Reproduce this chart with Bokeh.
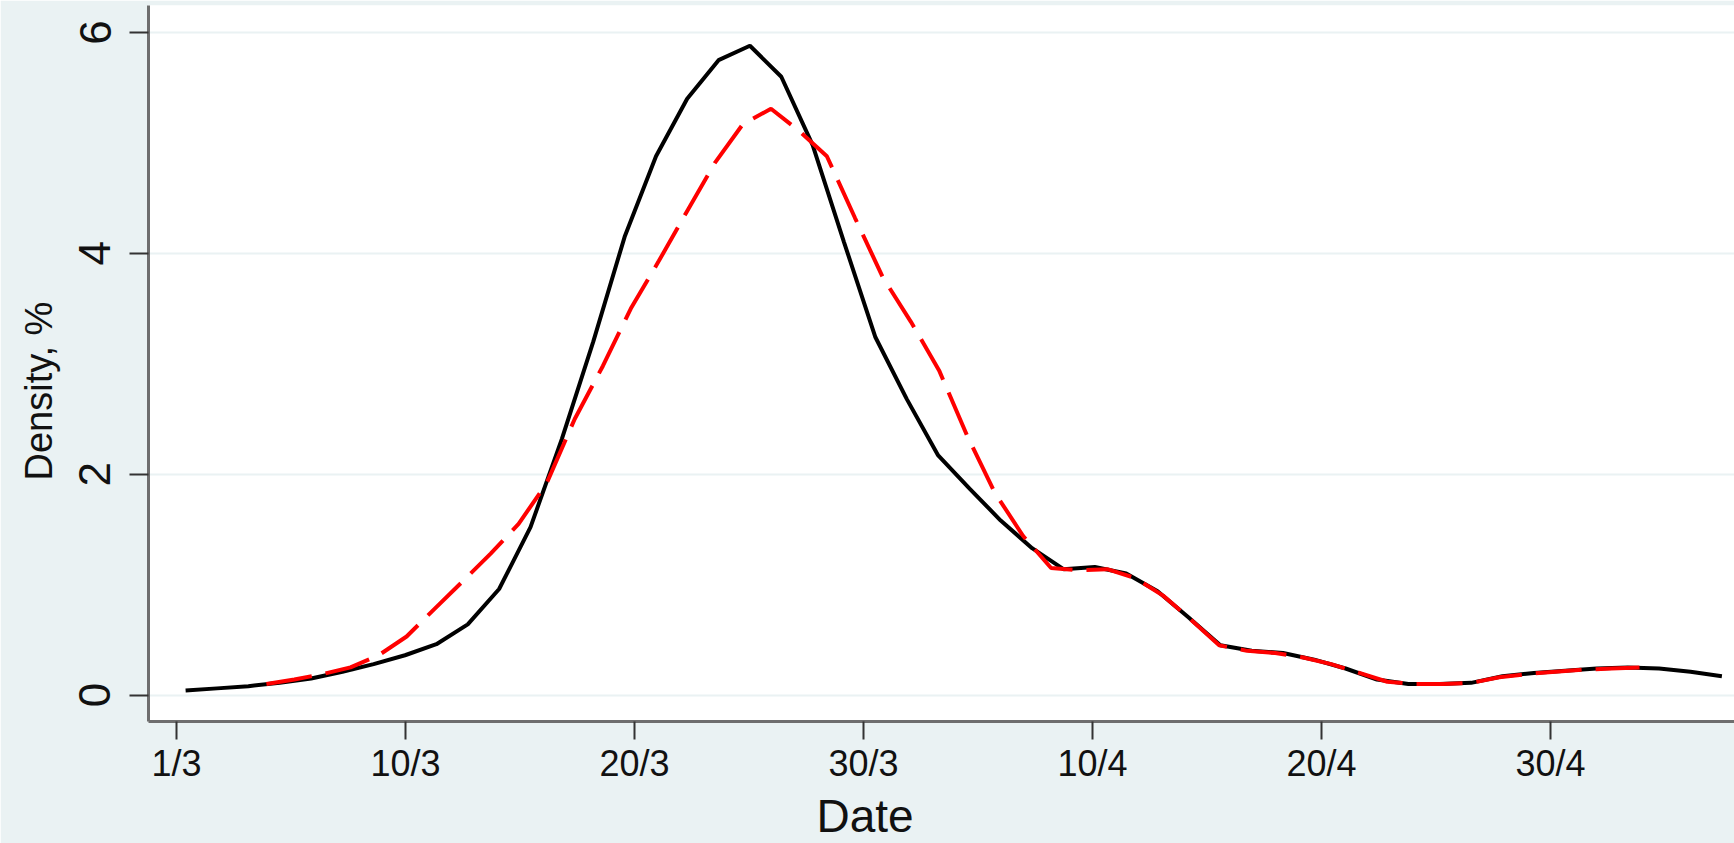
from bokeh.plotting import figure
from bokeh.models import Range1d, FixedTicker, Title
from bokeh.embed import file_html
from bokeh.resources import INLINE

# ---- data -------------------------------------------------------------
day_ticks = [0, 10, 20, 30, 40, 50, 60]
day_tick_labels = ["1/3", "10/3", "20/3", "30/3", "10/4", "20/4", "30/4"]
density_ticks = [0, 2, 4, 6]

# solid black density curve (day index, density %)
black_x = [0.40, 1.77, 3.14, 4.51, 5.88, 7.25, 8.61, 9.98, 11.35, 12.72,
           14.09, 15.46, 16.83, 18.20, 19.57, 20.94, 22.30, 23.67, 25.04, 26.41,
           27.78, 29.15, 30.52, 31.89, 33.26, 34.63, 35.99, 37.36, 38.73, 40.10,
           41.47, 42.84, 44.21, 45.58, 46.95, 48.32, 49.68, 51.05, 52.42, 53.79,
           55.16, 56.53, 57.90, 59.27, 60.64, 62.01, 63.37, 64.74, 66.11, 67.48]
black_y = [0.04, 0.06, 0.08, 0.11, 0.15, 0.21, 0.28, 0.36, 0.46, 0.64,
           0.96, 1.52, 2.32, 3.20, 4.15, 4.88, 5.40, 5.75, 5.88, 5.60,
           4.98, 4.10, 3.24, 2.68, 2.17, 1.87, 1.58, 1.33, 1.14, 1.16,
           1.10, 0.94, 0.70, 0.45, 0.40, 0.38, 0.32, 0.24, 0.14, 0.10,
           0.10, 0.11, 0.17, 0.20, 0.22, 0.24, 0.25, 0.24, 0.21, 0.17]

# dashed red density curve
red_x = [3.93, 5.15, 6.38, 7.60, 8.83, 10.05, 11.27, 12.50, 13.72, 14.94,
         16.17, 17.39, 18.62, 19.84, 21.06, 22.29, 23.51, 24.73, 25.96, 27.18,
         28.40, 29.63, 30.85, 32.07, 33.30, 34.52, 35.74, 36.97, 38.19, 39.41,
         40.64, 41.86, 43.08, 44.31, 45.53, 46.75, 47.98, 49.20, 50.42, 51.65,
         52.87, 54.09, 55.32, 56.54, 57.76, 58.99, 60.21, 61.43, 62.66, 63.88]
red_y = [0.10, 0.14, 0.19, 0.25, 0.36, 0.53, 0.78, 1.03, 1.28, 1.55,
         1.92, 2.50, 2.98, 3.50, 3.93, 4.38, 4.82, 5.17, 5.31, 5.11,
         4.88, 4.32, 3.78, 3.38, 2.94, 2.35, 1.83, 1.44, 1.15, 1.13,
         1.14, 1.06, 0.90, 0.68, 0.45, 0.40, 0.38, 0.34, 0.28, 0.20,
         0.12, 0.10, 0.10, 0.11, 0.16, 0.19, 0.21, 0.23, 0.24, 0.25]

x_title = "Date"
y_title = "Density, %"

# ---- styling ----------------------------------------------------------
BG = "#EAF2F3"
FONT = "Liberation Sans"

p = figure(width=1734, height=843, output_backend="svg", toolbar_location=None,
           x_range=Range1d(-1.22, 68.03), y_range=Range1d(-0.24, 6.245),
           min_border_left=148, min_border_right=0, min_border_top=5,
           min_border_bottom=122)

p.background_fill_color = "white"
p.border_fill_color = BG
p.outline_line_color = None

# grid
p.xgrid.visible = False
p.ygrid.ticker = FixedTicker(ticks=density_ticks)
p.ygrid.grid_line_color = BG
p.ygrid.grid_line_width = 2

# x axis
xa = p.xaxis[0]
xa.ticker = FixedTicker(ticks=day_ticks)
xa.major_label_overrides = {t: lab for t, lab in zip(day_ticks, day_tick_labels)}
xa.axis_line_color = "#6e6e6e"
xa.axis_line_width = 3
xa.major_tick_line_color = "#333333"
xa.major_tick_line_width = 2
xa.major_tick_out = 18
xa.major_tick_in = 0
xa.minor_tick_line_color = None
xa.major_label_standoff = 3
xa.major_label_text_font = FONT
xa.major_label_text_font_size = "36px"
xa.major_label_text_color = "#111111"

# y axis
ya = p.yaxis[0]
ya.ticker = FixedTicker(ticks=density_ticks)
ya.axis_line_color = "#6e6e6e"
ya.axis_line_width = 3
ya.major_tick_line_color = "#333333"
ya.major_tick_line_width = 2
ya.major_tick_out = 19
ya.major_tick_in = 0
ya.minor_tick_line_color = None
ya.major_label_orientation = "vertical"
ya.major_label_standoff = 19
ya.major_label_text_font = FONT
ya.major_label_text_font_size = "44px"
ya.major_label_text_color = "#111111"

# curves
p.line(black_x, black_y, line_color="black", line_width=4)
p.line(red_x, red_y, line_color="#FF0000", line_width=4, line_dash="46 14")

# axis titles
p.add_layout(Title(text=x_title, align="left", offset=668, standoff=2,
                   vertical_align="bottom", text_font=FONT,
                   text_font_size="46px", text_font_style="normal",
                   text_color="#111111"), "below")
p.add_layout(Title(text=y_title, align="left", offset=241, standoff=30,
                   vertical_align="top", text_font=FONT,
                   text_font_size="38px", text_font_style="normal",
                   text_color="#111111"), "left")

html = file_html(p, INLINE)
open("out.html", "w").write(html)
